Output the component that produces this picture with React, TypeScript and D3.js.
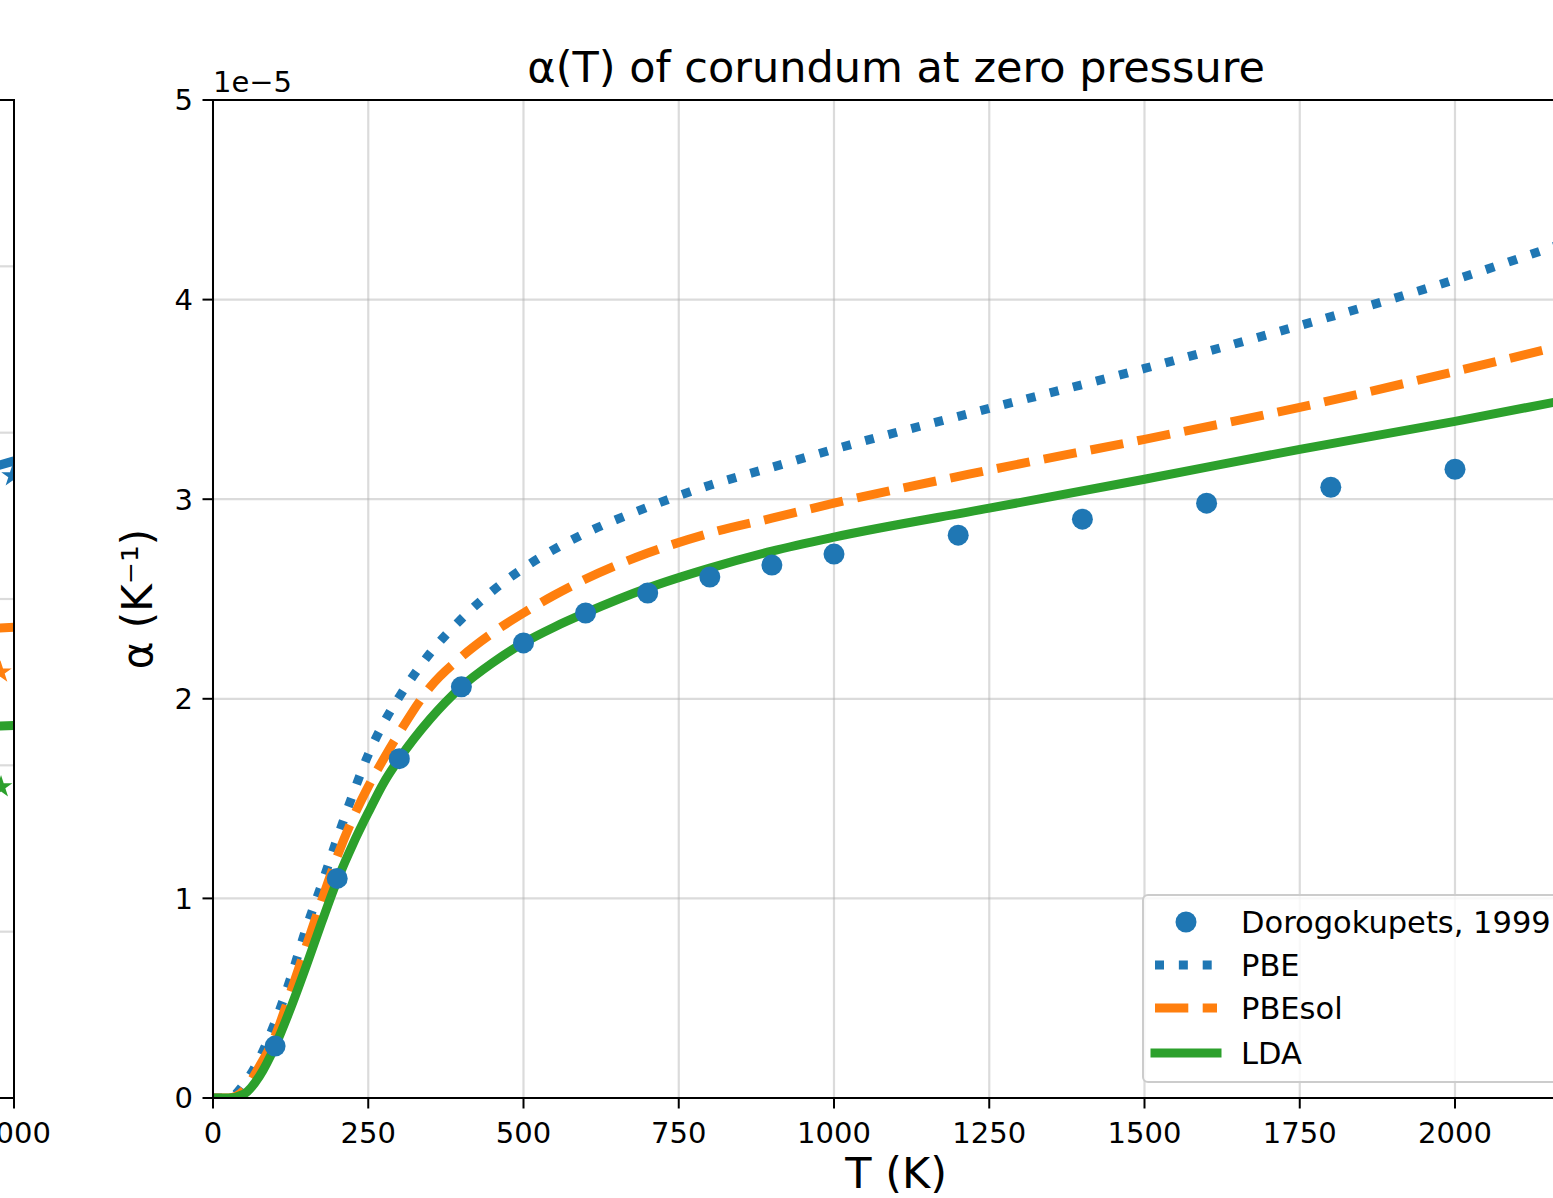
import React, { useEffect } from "react";
import * as d3 from "d3";

// ---- data (alpha in units of 1e-5 K^-1) ----
const T_CALC = [0, 25, 50, 75, 100, 125, 150, 175, 200, 225, 250, 275, 300, 350, 400, 450, 500, 550, 600, 700, 800, 900, 1000, 1250, 1500, 1750, 2000, 2200];
const ALPHA_PBE = [0, 0, 0.07, 0.2, 0.38, 0.6, 0.85, 1.07, 1.3, 1.52, 1.72, 1.88, 2.01, 2.23, 2.4, 2.54, 2.655, 2.75, 2.83, 2.96, 3.07, 3.16, 3.25, 3.455, 3.655, 3.87, 4.1, 4.31];
const ALPHA_PBESOL = [0, 0, 0.04, 0.16, 0.31, 0.53, 0.76, 0.99, 1.21, 1.4, 1.56, 1.7, 1.83, 2.06, 2.21, 2.33, 2.43, 2.52, 2.6, 2.73, 2.83, 2.905, 2.98, 3.146, 3.3, 3.46, 3.64, 3.79];
const ALPHA_LDA = [0, 0, 0.02, 0.11, 0.26, 0.45, 0.66, 0.88, 1.09, 1.27, 1.43, 1.58, 1.7, 1.9, 2.06, 2.18, 2.28, 2.36, 2.43, 2.555, 2.655, 2.74, 2.81, 2.955, 3.1, 3.25, 3.39, 3.51];

const T_EXP = [100, 200, 300, 400, 500, 600, 700, 800, 900, 1000, 1200, 1400, 1600, 1800, 2000];
const ALPHA_EXP = [0.26, 1.1, 1.7, 2.06, 2.28, 2.43, 2.53, 2.61, 2.67, 2.725, 2.82, 2.9, 2.98, 3.06, 3.15];

const X_TICKS = [0, 250, 500, 750, 1000, 1250, 1500, 1750, 2000];
const Y_TICKS = [0, 1, 2, 3, 4, 5];

// left (partially visible) panel
const LEFT_T = [1950, 2000];
const LEFT_BLUE = [3.77, 3.83];
const LEFT_ORANGE = [2.82, 2.83];
const LEFT_GREEN = [2.23, 2.24];
const LEFT_STAR_T = [1998, 1980, 1981];
const LEFT_STAR_V = [3.74, 2.56, 1.87];
const LEFT_Y_TICKS = [1, 2, 3, 4, 5];

const SERIES = [
  { name: "PBE", values: ALPHA_PBE, color: "#1f77b4", dash: "9 14.85", cap: "butt" },
  { name: "PBEsol", values: ALPHA_PBESOL, color: "#ff7f0e", dash: "33.3 14.4", cap: "butt" },
  { name: "LDA", values: ALPHA_LDA, color: "#2ca02c", dash: null, cap: "square" },
];
const EXP_NAME = "Dorogokupets, 1999";
const COLORS = ["#1f77b4", "#ff7f0e", "#2ca02c"];

const W = 1553;
const H = 1198;
const FONT = "DejaVu Sans, sans-serif";

export default function App() {
  useEffect(() => {
    document.body.style.margin = "0";
  }, []);

  const left = 213, right = 1579.2, top = 100, bottom = 1098;
  const x = d3.scaleLinear().domain([0, 2200]).range([left, right]);
  const y = d3.scaleLinear().domain([0, 5]).range([bottom, top]);

  const lx = d3.scaleLinear().domain([0, 2000]).range([14 - 1366, 14]);
  const ly = d3.scaleLinear().domain([0, 6]).range([bottom, top]);

  const lineFor = (vals: number[]) =>
    d3.line<number>().x((_, i) => x(T_CALC[i])).y((v) => y(v)).curve(d3.curveMonotoneX)(vals) as string;
  const leftLine = (vals: number[]) =>
    d3.line<number>().x((_, i) => lx(LEFT_T[i])).y((v) => ly(v))(vals) as string;
  const star = d3.symbol().type(d3.symbolStar).size(160)() as string;

  const legX = 1143, legY = 895;
  const rowY = [922, 965, 1008, 1053];
  const hx1 = 1155, hx2 = 1217;

  return (
    <svg width={W} height={H} style={{ display: "block", background: "#fff" }} fontFamily={FONT}>
      <defs>
        <clipPath id="mainClip">
          <rect x={left} y={top} width={right - left} height={bottom - top} />
        </clipPath>
        <clipPath id="leftClip">
          <rect x={-1352} y={top} width={1366} height={bottom - top} />
        </clipPath>
      </defs>
      <rect x={0} y={0} width={W} height={H} fill="#fff" />

      {/* ---------- left partial panel ---------- */}
      <g>
        {LEFT_Y_TICKS.map((t) => (
          <line key={t} x1={-10} x2={14} y1={ly(t)} y2={ly(t)} stroke="#b0b0b0" strokeOpacity={0.45} strokeWidth={2.2} />
        ))}
        <g clipPath="url(#leftClip)">
          <path d={leftLine(LEFT_BLUE)} fill="none" stroke={COLORS[0]} strokeWidth={9} />
          <path d={leftLine(LEFT_ORANGE)} fill="none" stroke={COLORS[1]} strokeWidth={9} />
          <path d={leftLine(LEFT_GREEN)} fill="none" stroke={COLORS[2]} strokeWidth={9} />
          {LEFT_STAR_T.map((t, i) => (
            <path key={i} d={star} transform={`translate(${lx(t)},${ly(LEFT_STAR_V[i])})`} fill={COLORS[i]} />
          ))}
        </g>
        <line x1={14} x2={14} y1={top} y2={bottom} stroke="#000" strokeWidth={2} />
        <line x1={-10} x2={15} y1={top} y2={top} stroke="#000" strokeWidth={2} />
        <line x1={-10} x2={15} y1={bottom} y2={bottom} stroke="#000" strokeWidth={2} />
        <line x1={14} x2={14} y1={bottom} y2={bottom + 10.5} stroke="#000" strokeWidth={2} />
        <text x={14} y={1143} fontSize={29} textAnchor="middle">2000</text>
      </g>

      {/* ---------- main panel ---------- */}
      <g>
        {X_TICKS.map((t) => (
          <line key={"gx" + t} x1={x(t)} x2={x(t)} y1={top} y2={bottom} stroke="#b0b0b0" strokeOpacity={0.45} strokeWidth={2.2} />
        ))}
        {Y_TICKS.map((t) => (
          <line key={"gy" + t} x1={left} x2={right} y1={y(t)} y2={y(t)} stroke="#b0b0b0" strokeOpacity={0.45} strokeWidth={2.2} />
        ))}

        <g clipPath="url(#mainClip)">
          {SERIES.map((s) => (
            <path
              key={s.name}
              d={lineFor(s.values)}
              fill="none"
              stroke={s.color}
              strokeWidth={9}
              strokeDasharray={s.dash ?? undefined}
              strokeLinecap={s.cap as any}
              strokeLinejoin="round"
            />
          ))}
          {T_EXP.map((t, i) => (
            <circle key={t} cx={x(t)} cy={y(ALPHA_EXP[i])} r={10.5} fill={COLORS[0]} />
          ))}
        </g>

        {/* spines */}
        <line x1={left} x2={left} y1={top} y2={bottom} stroke="#000" strokeWidth={2} strokeLinecap="square" />
        <line x1={right} x2={right} y1={top} y2={bottom} stroke="#000" strokeWidth={2} strokeLinecap="square" />
        <line x1={left} x2={right} y1={top} y2={top} stroke="#000" strokeWidth={2} strokeLinecap="square" />
        <line x1={left} x2={right} y1={bottom} y2={bottom} stroke="#000" strokeWidth={2} strokeLinecap="square" />

        {/* ticks */}
        {X_TICKS.map((t) => (
          <g key={"tx" + t}>
            <line x1={x(t)} x2={x(t)} y1={bottom} y2={bottom + 10.5} stroke="#000" strokeWidth={2} />
            <text x={x(t)} y={1143} fontSize={29} textAnchor="middle">{t}</text>
          </g>
        ))}
        {Y_TICKS.map((t) => (
          <g key={"ty" + t}>
            <line x1={left - 10.5} x2={left} y1={y(t)} y2={y(t)} stroke="#000" strokeWidth={2} />
            <text x={193} y={y(t)} dy="0.36em" fontSize={29} textAnchor="end">{t}</text>
          </g>
        ))}
        <text x={left} y={92} fontSize={29}>1e−5</text>

        {/* labels */}
        <text x={(left + right) / 2} y={82} fontSize={43} textAnchor="middle">α(T) of corundum at zero pressure</text>
        <text x={(left + right) / 2} y={1188} fontSize={43} textAnchor="middle">T (K)</text>
        <text transform={`translate(152,${(top + bottom) / 2}) rotate(-90)`} fontSize={42} textAnchor="middle">α (K⁻¹)</text>

        {/* legend */}
        <rect x={legX} y={legY} width={440} height={187} rx={5} fill="#fff" fillOpacity={0.8} stroke="#cccccc" strokeWidth={2} />
        <circle cx={(hx1 + hx2) / 2} cy={rowY[0]} r={10.5} fill={COLORS[0]} />
        <text x={1241} y={rowY[0]} dy="0.36em" fontSize={30.5}>{EXP_NAME}</text>
        {SERIES.map((s, i) => (
          <g key={"leg" + s.name}>
            <line
              x1={hx1}
              x2={hx2}
              y1={rowY[i + 1]}
              y2={rowY[i + 1]}
              stroke={s.color}
              strokeWidth={9}
              strokeDasharray={s.dash ?? undefined}
              strokeLinecap={s.cap as any}
            />
            <text x={1241} y={rowY[i + 1]} dy="0.36em" fontSize={30.5}>{s.name}</text>
          </g>
        ))}
      </g>
    </svg>
  );
}
